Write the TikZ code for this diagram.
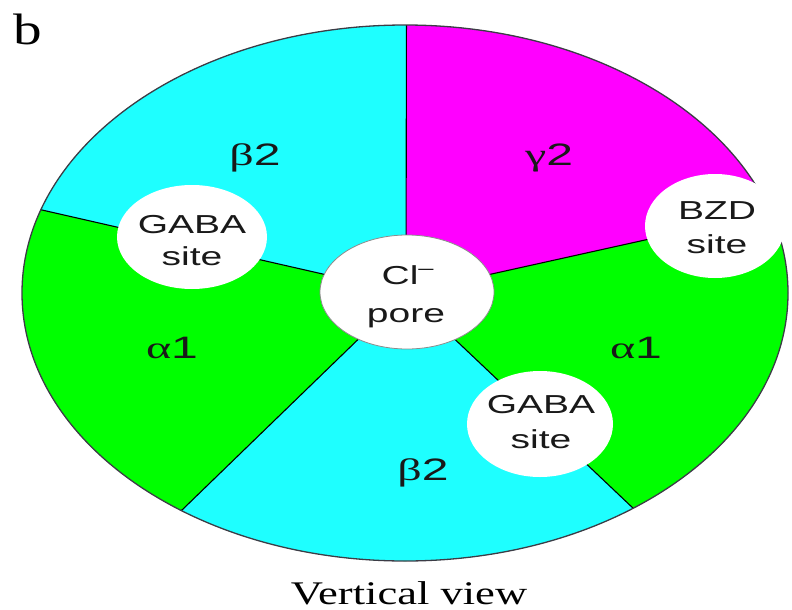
\documentclass[tikz,border=0pt]{standalone}
\usepackage{fontspec}
\setmainfont{Liberation Serif}
\newfontfamily\arialf{Liberation Sans}
\usepackage{graphicx}
\usetikzlibrary{shapes.geometric}
\definecolor{cyanF}{RGB}{30,255,255}
\definecolor{greenF}{RGB}{0,255,0}
\definecolor{magF}{RGB}{255,0,255}
\definecolor{rimC}{RGB}{60,60,70}
\newcommand{\hstretch}[2]{\scalebox{#1}[1]{#2}}
\newcommand{\sublab}[2]{\hstretch{1.55}{{\fontsize{31}{31}\selectfont #1}{\arialf\fontsize{31}{31}\selectfont #2}}}
\newcommand{\sitetxt}[1]{\hstretch{1.5}{\arialf\fontsize{26}{26}\selectfont #1}}
\begin{document}
\begin{tikzpicture}[x=1pt,y=-1pt,
  divider/.style={draw=black, line width=1.1pt},
  rim/.style={draw=rimC, line width=1.3pt},
  site/.style={ellipse, fill=white, inner sep=0pt},
  txt/.style={anchor=base, inner sep=0pt, text=black!90}]
\useasboundingbox (0,0) rectangle (792,610);
\coordinate (C) at (406,293);
\coordinate (T) at (407,-300);
\coordinate (R) at (1123,134);
\coordinate (LR) at (1093,944);
\coordinate (LL) at (-266,944);
\coordinate (UL) at (-686,44);
\begin{scope}
  \clip (405,293) ellipse [x radius=383, y radius=268];
  \fill[greenF] (-700,-400) rectangle (1200,1000);
  \fill[cyanF] (C) -- (UL) -- (-686,-300) -- (T) -- cycle;
  \fill[magF] (C) -- (T) -- (1123,-300) -- (R) -- cycle;
  \fill[cyanF] (C) -- (LR) -- (LL) -- cycle;
  \draw[divider] (C) -- (T);
  \draw[divider] (C) -- (R);
  \draw[divider] (C) -- (LR);
  \draw[divider] (C) -- (LL);
  \draw[divider] (C) -- (UL);
\end{scope}
\draw[rim] (405,293) ellipse [x radius=383, y radius=268];
% sites
\node[site, draw=black!45, line width=0.8pt, minimum width=174pt, minimum height=114pt] (pore) at (407,292) {};
\node[site, minimum width=150pt, minimum height=104pt] (gabaL) at (192,237) {};
\node[site, minimum width=146pt, minimum height=106pt] (gabaR) at (540,424) {};
\node[site, minimum width=140pt, minimum height=104pt] (bzd) at (715,226) {};
% subunit labels
\node[txt] (b2top) at (255,165) {\sublab{β}{2}};
\node[txt] (g2) at (549,165) {\sublab{γ}{2}};
\node[txt] (a1L) at (172,358) {\sublab{α}{1}};
\node[txt] (a1R) at (636,358) {\sublab{α}{1}};
\node[txt] (b2bot) at (423,480) {\sublab{β}{2}};
% site texts
\node[txt] (clA) at (408,284) {\sitetxt{Cl\textsuperscript{–}}};
\node[txt] (clB) at (406,322) {\sitetxt{pore}};
\node[txt] (gLa) at (192,233) {\sitetxt{GABA}};
\node[txt] (gLb) at (192,265) {\sitetxt{site}};
\node[txt] (gRa) at (541,413) {\sitetxt{GABA}};
\node[txt] (gRb) at (541,448) {\sitetxt{site}};
\node[txt] (bzA) at (717,219) {\sitetxt{BZD}};
\node[txt] (bzB) at (717,253) {\sitetxt{site}};
% captions
\node[txt, text=black] (panel) at (28,45) {\hstretch{1.3}{\fontsize{44}{44}\selectfont b}};
\node[txt, text=black] (view) at (409,604) {\hstretch{1.35}{\fontsize{33}{33}\selectfont Vertical view}};
\end{tikzpicture}
\end{document}
